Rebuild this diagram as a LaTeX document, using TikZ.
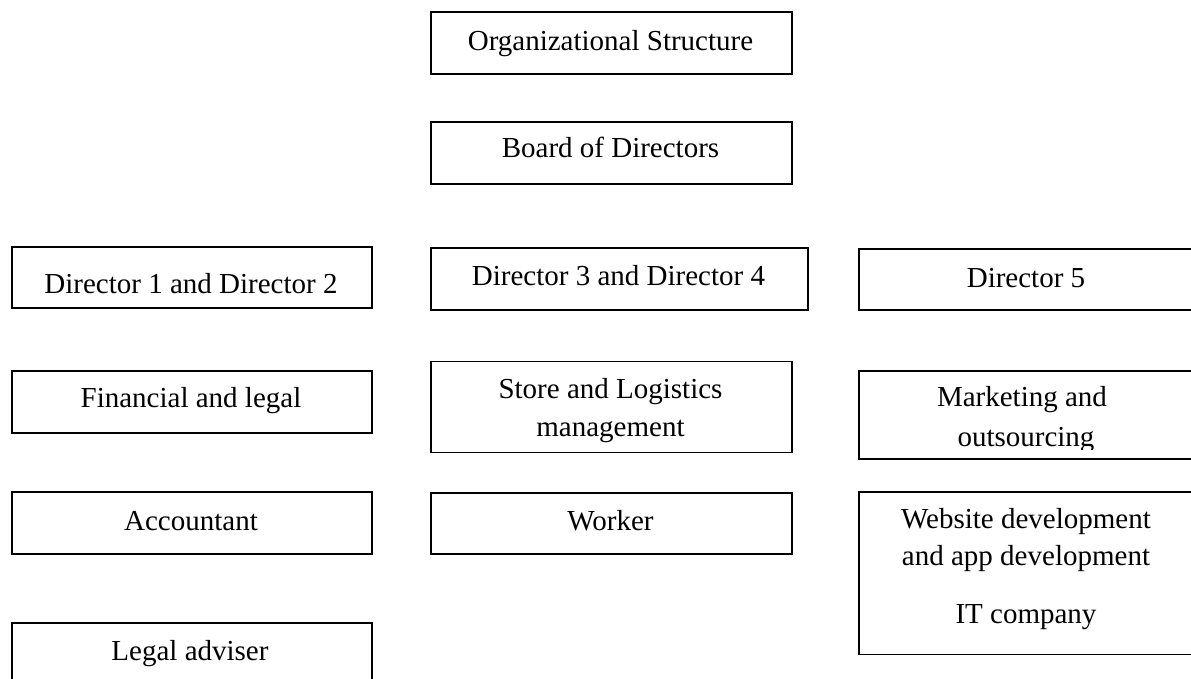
\documentclass[tikz,border=0pt]{standalone}
\usepackage{fontspec}
\setmainfont{Liberation Serif}
\begin{document}
\begin{tikzpicture}[x=1pt,y=-1pt,
  box/.style={draw=black, line width=1.8pt, rectangle, anchor=north west, inner sep=0pt},
  txt/.style={anchor=base, inner sep=0pt, font=\fontsize{29}{38}\selectfont}]
\useasboundingbox (0,0) rectangle (1191,679);
\clip (0,0) rectangle (1191,679);

% boxes
\node[box, minimum width=361pt, minimum height=62pt] (org) at (430,11) {};
\node[box, minimum width=361pt, minimum height=62pt] (board) at (430,121) {};
\node[box, minimum width=360pt, minimum height=61pt] (d12) at (11,246) {};
\node[box, minimum width=377pt, minimum height=62pt] (d34) at (430,247) {};
\node[box, minimum width=336pt, minimum height=61pt] (d5) at (858,248) {};
\node[box, minimum width=360pt, minimum height=62pt] (fin) at (11,370) {};
\node[box, minimum width=361pt, minimum height=91pt] (store) at (430,360.5) {};
\node[box, minimum width=336pt, minimum height=88pt] (mkt) at (858,370) {};
\node[box, minimum width=360pt, minimum height=62pt] (acc) at (11,491) {};
\node[box, minimum width=361pt, minimum height=61pt] (worker) at (430,492) {};
\node[box, minimum width=336pt, minimum height=162.5pt] (web) at (858,491) {};
\node[box, minimum width=360pt, minimum height=80pt] (legal) at (11,622) {};

% labels
\node[txt] (orgT) at (610.5,50.5) {Organizational Structure};
\node[txt] (boardT) at (610.5,158) {Board of Directors};
\node[txt] (d12T) at (191,293) {Director 1 and Director 2};
\node[txt] (d34T) at (618.5,285) {Director 3 and Director 4};
\node[txt] (d5T) at (1026,287) {Director 5};
\node[txt] (finT) at (191,407) {Financial and legal};
\begin{scope}
  \clip (store.north west) rectangle ([yshift=10.5pt]store.south east);
  \node[txt] (storeA) at (610.5,398.3) {Store and Logistics};
  \node[txt] (storeB) at (610.5,436.7) {management};
\end{scope}
\begin{scope}
  \clip (mkt.north west) rectangle ([yshift=10.5pt]mkt.south east);
  \node[txt] (mktA) at (1022,406.7) {Marketing and};
  \node[txt] (mktB) at (1026,446) {outsourcing};
\end{scope}
\node[txt] (accT) at (191,530.5) {Accountant};
\node[txt] (workerT) at (610.5,530) {Worker};
\node[txt] (webA) at (1026,528.3) {Website development};
\node[txt] (webB) at (1026,565.5) {and app development};
\node[txt] (webC) at (1026,623.3) {IT company};
\node[txt] (legalT) at (190,660.7) {Legal adviser};
\end{tikzpicture}
\end{document}
